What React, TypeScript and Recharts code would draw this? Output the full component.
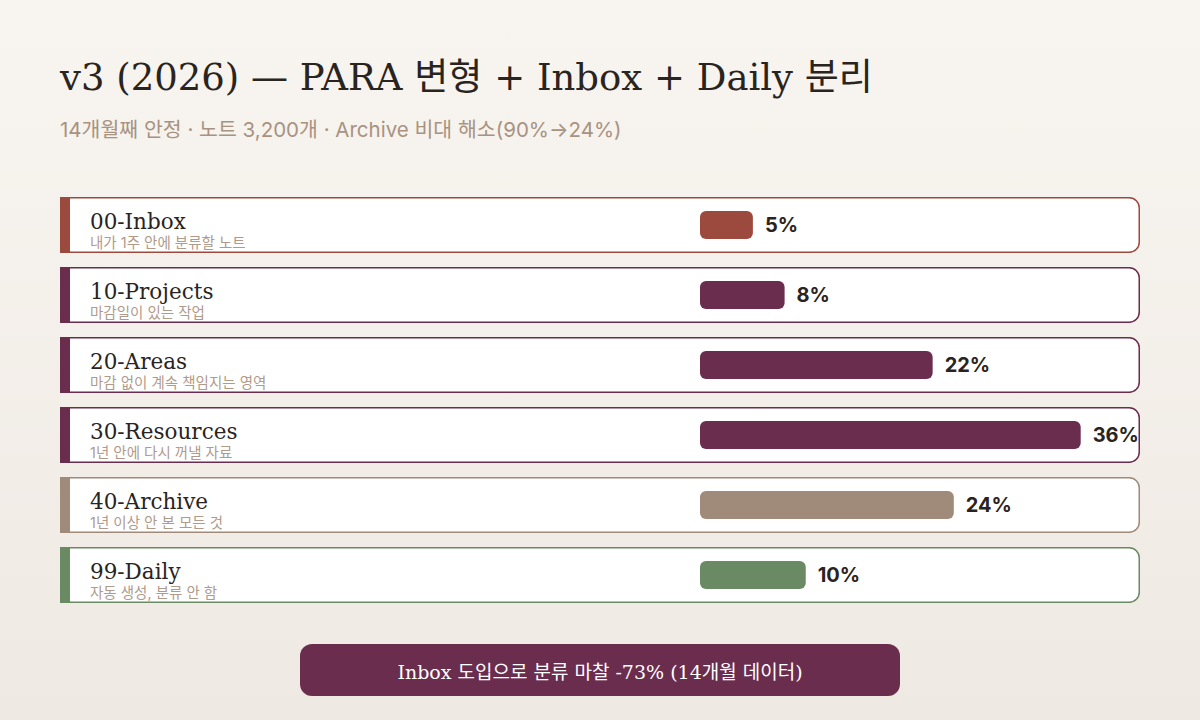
import React from 'react';
import { BarChart, Bar, XAxis, YAxis, LabelList } from 'recharts';

// 폴더별 노트 비중 (v3, 2026)
const folders = ['00-Inbox', '10-Projects', '20-Areas', '30-Resources', '40-Archive', '99-Daily'];
const descriptions = [
  '내가 1주 안에 분류할 노트',
  '마감일이 있는 작업',
  '마감 없이 계속 책임지는 영역',
  '1년 안에 다시 꺼낼 자료',
  '1년 이상 안 본 모든 것',
  '자동 생성, 분류 안 함',
];
const shares = [5, 8, 22, 36, 24, 10];

const folderColors: Record<string, string> = {
  '00-Inbox': '#9c4a3e',
  '10-Projects': '#6b2d4e',
  '20-Areas': '#6b2d4e',
  '30-Resources': '#6b2d4e',
  '40-Archive': '#a08a7a',
  '99-Daily': '#6a8a64',
};

const data = folders.map((name, i) => ({ name, desc: descriptions[i], value: shares[i] }));

const SERIF = '"DejaVu Serif", "Noto Sans CJK KR", serif';
const SANS = 'Inter, "Noto Sans CJK KR", sans-serif';

const RowShape = (props: any) => {
  const { x, y, width, height, payload } = props;
  const color = folderColors[payload.name];
  const cy = y + height / 2;
  const top = cy - 28;
  return (
    <g>
      <rect x={60.75} y={top + 0.75} width={1078.5} height={54.5} rx={10} fill="#ffffff" stroke={color} strokeWidth={1.5} />
      <rect x={60} y={top} width={10} height={56} fill={color} />
      <text x={90} y={cy + 3.5} fontFamily={SERIF} fontSize={21.5} fill="#2a2420">
        {payload.name}
      </text>
      <text x={90} y={cy + 22.5} fontFamily={SANS} fontSize={14.5} fill="#b09a8a">
        {payload.desc}
      </text>
      <rect x={x} y={y} width={width} height={height} rx={6} ry={6} fill={color} />
    </g>
  );
};

export default function App() {
  return (
    <div
      style={{
        position: 'absolute',
        left: 0,
        top: 0,
        width: 1200,
        height: 720,
        background: 'linear-gradient(180deg, #f8f5f0 0%, #efe9e3 100%)',
        overflow: 'hidden',
      }}
    >
      <div
        style={{
          position: 'absolute',
          left: 60,
          top: 52,
          fontFamily: SERIF,
          fontSize: 37,
          color: '#2a2420',
          whiteSpace: 'nowrap',
          lineHeight: '52px',
        }}
      >
        v3 (2026) — PARA 변형 + Inbox + Daily 분리
      </div>
      <div
        style={{
          position: 'absolute',
          left: 60,
          top: 116,
          fontFamily: SANS,
          fontSize: 20.5,
          color: '#a89282',
          whiteSpace: 'nowrap',
          lineHeight: '28px',
        }}
      >
        14개월째 안정 · 노트 3,200개 · Archive 비대 해소(90%→24%)
      </div>

      <div style={{ position: 'absolute', left: 0, top: 0 }}>
        <BarChart
          width={1200}
          height={720}
          data={data}
          layout="vertical"
          margin={{ top: 190, right: 77, bottom: 110, left: 700 }}
          barCategoryGap={0}
        >
          <XAxis type="number" domain={[0, 40]} hide />
          <YAxis type="category" dataKey="name" hide width={0} />
          <Bar dataKey="value" barSize={28} isAnimationActive={false} shape={RowShape}>
            <LabelList
              dataKey="value"
              position="right"
              offset={12}
              formatter={(v: any) => `${v}%`}
              style={{ fontFamily: SANS, fontSize: 20, fontWeight: 700, fill: '#2a2420' }}
            />
          </Bar>
        </BarChart>
      </div>

      <div
        style={{
          position: 'absolute',
          left: 300,
          top: 644,
          width: 600,
          height: 52,
          borderRadius: 12,
          background: '#6b2d4e',
          color: '#ffffff',
          fontFamily: SERIF,
          fontSize: 19,
          display: 'flex',
          alignItems: 'center',
          justifyContent: 'center',
        }}
      >
        Inbox 도입으로 분류 마찰 -73% (14개월 데이터)
      </div>
    </div>
  );
}
